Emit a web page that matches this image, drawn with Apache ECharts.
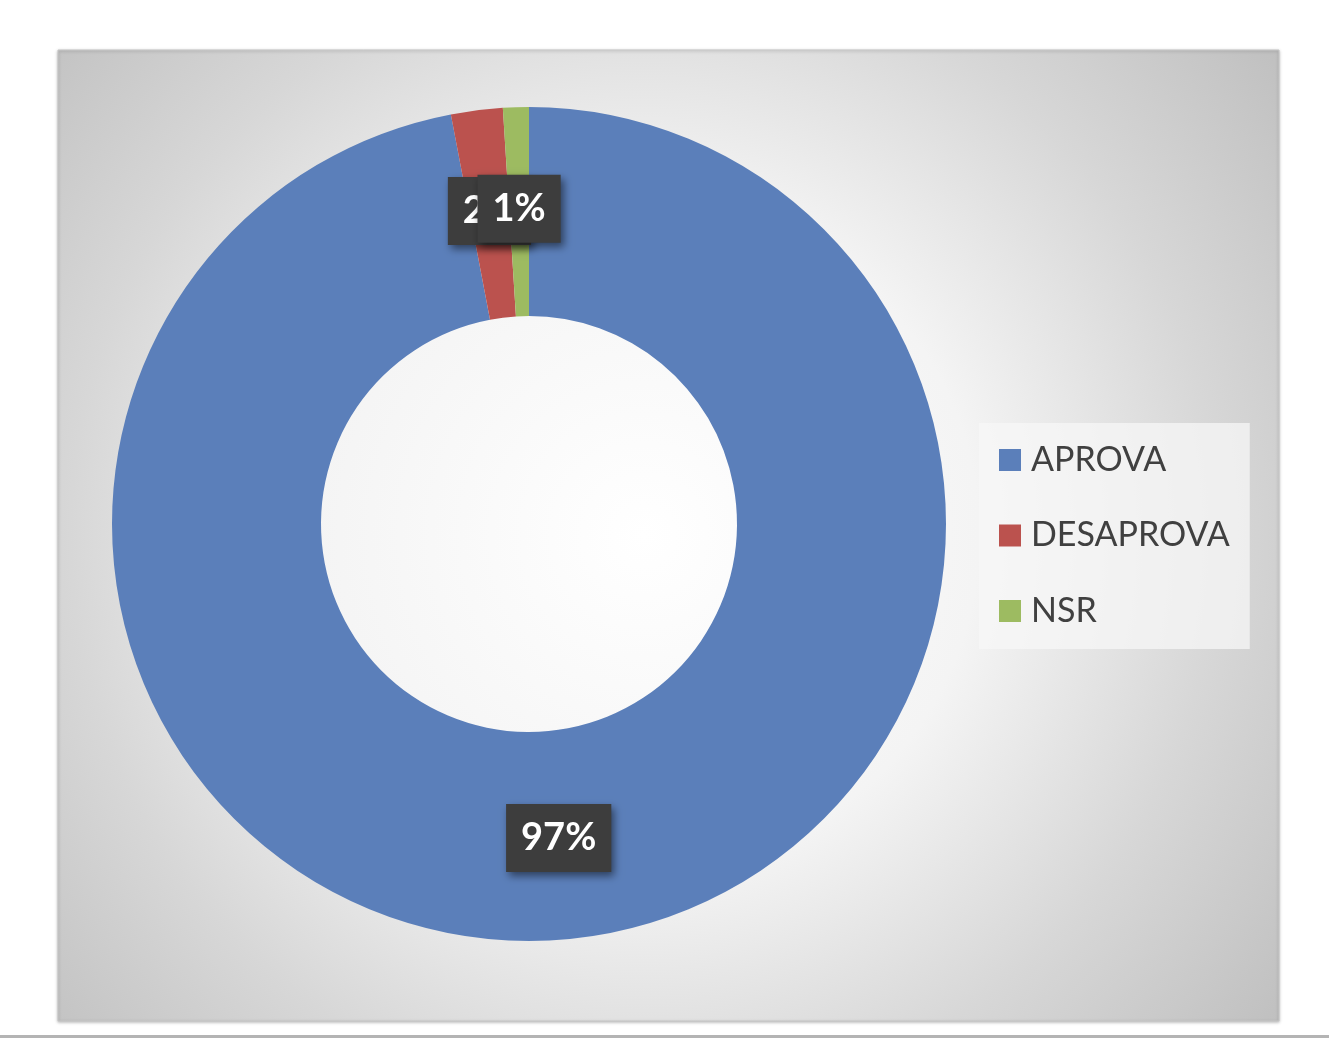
<!DOCTYPE html>
<html>
<head>
<meta charset="utf-8">
<script src="https://cdn.jsdelivr.net/npm/echarts@6/dist/echarts.min.js"></script>
<style>
html,body{margin:0;padding:0;background:#ffffff;}
#chart{width:1329px;height:1038px;}
</style>
</head>
<body>
<div id="chart"></div>
<script>
const categories = ['APROVA', 'DESAPROVA', 'NSR'];
const values = [97, 2, 1];
const colors = ['#5b7fba', '#bb524e', '#9dbb61'];

const chart = echarts.init(document.getElementById('chart'), null, {renderer: 'canvas'});

const option = {
  animation: false,
  backgroundColor: '#ffffff',
  graphic: [
    {
      type: 'rect',
      z: 0,
      shape: {x: 58, y: 50, width: 1221, height: 971},
      style: {
        fill: {
          type: 'radial', x: 0.48, y: 0.5, r: 0.82,
          colorStops: [
            {offset: 0, color: '#ffffff'},
            {offset: 0.42, color: '#f4f4f4'},
            {offset: 0.72, color: '#d7d7d7'},
            {offset: 1, color: '#c0c0c0'}
          ]
        },
        stroke: '#c6c6c6',
        lineWidth: 1,
        shadowBlur: 3,
        shadowColor: 'rgba(0,0,0,0.25)',
        shadowOffsetX: 0,
        shadowOffsetY: 1
      }
    },
    {
      type: 'rect',
      z: 0,
      shape: {x: 0, y: 1035, width: 1329, height: 3},
      style: {fill: '#b4b4b4'}
    }
  ],
  legend: {
    orient: 'vertical',
    left: 979,
    top: 423,
    padding: [19, 20, 20, 20],
    backgroundColor: 'rgba(247,247,247,0.75)',
    itemWidth: 22,
    itemHeight: 22,
    itemGap: 39.5,
    icon: 'rect',
    data: categories,
    textStyle: {
      fontFamily: 'Lato',
      fontSize: 34,
      lineHeight: 36,
      color: '#404040',
      padding: [0, 0, 0, 5]
    }
  },
  series: [
    {
      type: 'pie',
      z: 2,
      center: [529, 524],
      radius: [208, 417],
      startAngle: 90,
      clockwise: true,
      avoidLabelOverlap: false,
      color: colors,
      labelLayout: {hideOverlap: false},
      label: {
        show: true,
        position: 'inside',
        formatter: function (p) { return p.value + '%'; },
        fontFamily: 'Lato',
        fontWeight: 'bold',
        fontSize: 38,
        lineHeight: 44,
        color: '#ffffff',
        backgroundColor: '#3d3d3d',
        padding: [12, 15, 12, 15],
        shadowBlur: 8,
        shadowColor: 'rgba(0,0,0,0.5)',
        shadowOffsetX: 3,
        shadowOffsetY: 4
      },
      labelLine: {show: false},
      emphasis: {disabled: true},
      data: categories.map(function (c, i) { return {name: c, value: values[i]}; })
    }
  ]
};
chart.setOption(option);
</script>
</body>
</html>
